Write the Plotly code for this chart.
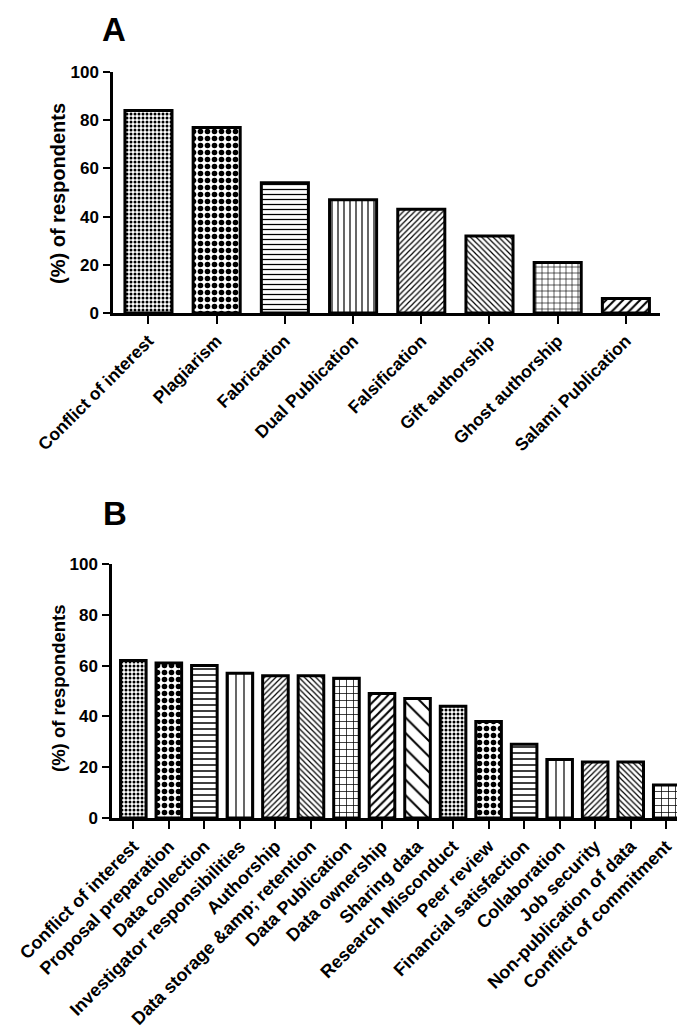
import plotly.graph_objects as go

# Panel A data
cats_a = ["Conflict of interest", "Plagiarism", "Fabrication", "Dual Publication",
          "Falsification", "Gift authorship", "Ghost authorship", "Salami Publication"]
vals_a = [84, 77, 54, 47, 43, 32, 21, 6]

# Panel B data
cats_b = ["Conflict of interest", "Proposal preparation", "Data collection",
          "Investigator responsibilities", "Authorship", "Data storage &amp; retention",
          "Data Publication", "Data ownership", "Sharing data", "Research Misconduct",
          "Peer review", "Financial satisfaction", "Collaboration", "Job security",
          "Non-publication of data", "Conflict of commitment"]
vals_b = [62, 61, 60, 57, 56, 56, 55, 49, 47, 44, 38, 29, 23, 22, 22, 13]

y_ticks = [0, 20, 40, 60, 80, 100]

W, H = 685, 1030

pat_a = [dict(shape=".", size=4, solidity=0.45),
         dict(shape=".", size=7, solidity=0.5),
         dict(shape="-", size=5, solidity=0.25),
         dict(shape="|", size=6, solidity=0.2),
         dict(shape="/", size=4, solidity=0.3),
         dict(shape="\\", size=4, solidity=0.3),
         dict(shape="+", size=6, solidity=0.2),
         dict(shape="/", size=6, solidity=0.35)]
pat_b = [dict(shape=".", size=4, solidity=0.45),
         dict(shape=".", size=7, solidity=0.5),
         dict(shape="-", size=6, solidity=0.25),
         dict(shape="|", size=8, solidity=0.15),
         dict(shape="/", size=4, solidity=0.3),
         dict(shape="\\", size=4, solidity=0.3),
         dict(shape="+", size=7, solidity=0.2),
         dict(shape="/", size=6, solidity=0.35),
         dict(shape="\\", size=11, solidity=0.18),
         dict(shape=".", size=4, solidity=0.45),
         dict(shape=".", size=7, solidity=0.5),
         dict(shape="-", size=6, solidity=0.25),
         dict(shape="|", size=8, solidity=0.15),
         dict(shape="/", size=4, solidity=0.3),
         dict(shape="\\", size=4, solidity=0.3),
         dict(shape="+", size=7, solidity=0.2)]

def pats(lst):
    return dict(shape=[p["shape"] for p in lst], size=[p["size"] for p in lst],
                solidity=[p["solidity"] for p in lst], fgcolor="black",
                bgcolor="white", fillmode="replace")

fig = go.Figure()
fig.add_trace(go.Bar(x=cats_a, y=vals_a, width=0.69, xaxis="x", yaxis="y",
                     marker=dict(color="white", line=dict(color="black", width=3),
                                 pattern=pats(pat_a)), showlegend=False))
fig.add_trace(go.Bar(x=cats_b, y=vals_b, width=0.72, xaxis="x2", yaxis="y2",
                     marker=dict(color="white", line=dict(color="black", width=3),
                                 pattern=pats(pat_b)), showlegend=False))

FAM = "Liberation Sans, Arial, sans-serif"
tickfont_y = dict(family=FAM, size=17, color="black", weight="bold")

def yax(domain, anchor):
    return dict(domain=domain, anchor=anchor, range=[0, 100], tickvals=y_ticks,
                showline=True, linecolor="black", linewidth=2.5, ticks="outside",
                ticklen=7, tickwidth=2, tickcolor="black", showgrid=False,
                zeroline=False, tickfont=tickfont_y, fixedrange=True,
                automargin=False, ticklabelstandoff=1)

def xax(domain, anchor, rng, cats, fsize):
    return dict(domain=domain, anchor=anchor, range=rng, showline=True,
                linecolor="black", linewidth=2.5, ticks="outside", ticklen=8,
                tickwidth=2, tickcolor="black", showgrid=False, tickangle=-45,
                tickmode="array", tickvals=cats, automargin=False,
                ticktext=[c.replace("&", "&amp;") for c in cats],
                tickfont=dict(family=FAM, size=fsize, color="black", weight="bold"))

fig.update_layout(
    width=W, height=H, margin=dict(l=0, r=0, t=0, b=0, autoexpand=False),
    paper_bgcolor="white", plot_bgcolor="white",
    xaxis=xax([105 / W, 652 / W], "y", [-0.52, 7.5], cats_a, 17.5),
    yaxis=yax([1 - 305 / H, 1 - 64 / H], "x"),
    xaxis2=xax([104 / W, 676 / W], "y2", [-0.6, 15.5], cats_b, 18),
    yaxis2=yax([1 - 810 / H, 1 - 556 / H], "x2"),
)

for yc, fs in [(185, 20), (680, 18.5)]:
    fig.add_annotation(text="(%) of respondents", xref="paper", yref="paper",
                       x=50 / W, y=1 - yc / H, textangle=-90, showarrow=False,
                       xanchor="center", yanchor="middle",
                       font=dict(family=FAM, size=fs, color="black", weight="bold"))

panel_font = dict(family=FAM, size=33, color="black", weight="bold")
fig.add_annotation(text="A", xref="paper", yref="paper", x=106 / W, y=1 - 21 / H,
                   showarrow=False, xanchor="center", yanchor="middle", font=panel_font)
fig.add_annotation(text="B", xref="paper", yref="paper", x=107 / W, y=1 - 505 / H,
                   showarrow=False, xanchor="center", yanchor="middle", font=panel_font)

fig.write_html("out.html")
